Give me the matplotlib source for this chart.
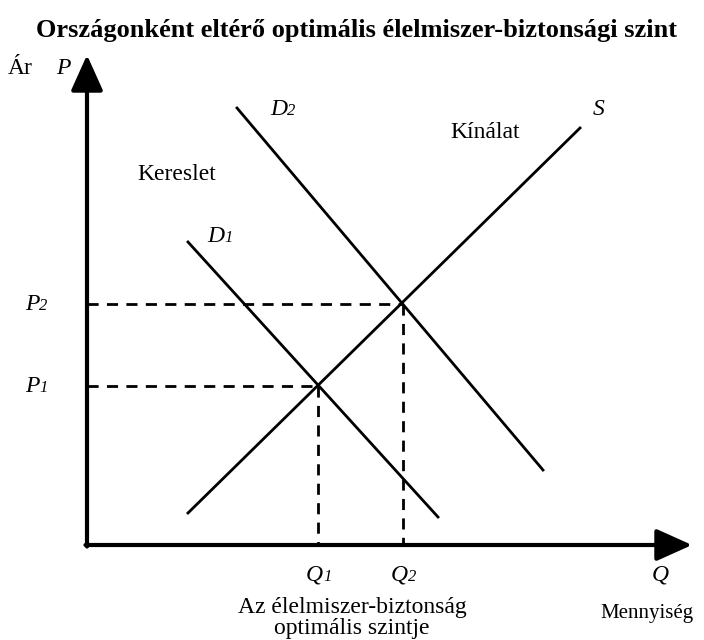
import matplotlib
matplotlib.use("Agg")
import matplotlib.pyplot as plt

# Schematic data (quantity Q, price P) in arbitrary units
supply_q = [101, 493]
supply_p = [32, 417]
d1_q = [101, 351]
d1_p = [303, 28]
d2_q = [150, 456]
d2_p = [437, 75]
eq_q = [231, 316]   # Q1, Q2
eq_p = [159, 241]   # P1, P2
q_max = 605
p_max = 490

title = "Országonként eltérő optimális élelmiszer-biztonsági szint"

plt.rcParams['font.family'] = ['Liberation Serif', 'DejaVu Serif']

fig = plt.figure(figsize=(7.04, 6.4), dpi=100)
ax = fig.add_axes([0, 0, 1, 1])
ax.set_xlim(-87, 617)
ax.set_ylim(-95, 545)
ax.axis('off')

# axes arrows
arrow = dict(arrowstyle='-|>,head_length=1.0,head_width=0.45', lw=3, color='black',
             shrinkA=0, shrinkB=0, mutation_scale=22)
ax.annotate('', xy=(0, p_max), xytext=(0, -1.5), arrowprops=arrow)
ax.annotate('', xy=(q_max, 0), xytext=(-1.5, 0), arrowprops=arrow)

# curves
ax.plot(supply_q, supply_p, color='black', lw=2)
ax.plot(d1_q, d1_p, color='black', lw=2)
ax.plot(d2_q, d2_p, color='black', lw=2)

# dashed guides
for q, p in zip(eq_q, eq_p):
    ax.plot([0, q], [p, p], color='black', lw=2, ls=(0, (4, 3)))
    ax.plot([q, q], [p, 0], color='black', lw=2, ls=(0, (4, 3)))

fs = 17
sub_fs = 12

def lab(x, y, main, sub=None, ha='left'):
    t = ax.text(x, y, main, fontsize=fs, style='italic', ha=ha, va='baseline')
    if sub is not None:
        ax.annotate(sub, xy=(1, 0), xycoords=t, fontsize=sub_fs, style='italic',
                    ha='left', va='bottom', xytext=(0, 0.5), textcoords='offset points')
    return t

lab(-31, 471, 'P')
ax.text(-79, 471, 'Ár', fontsize=fs, va='baseline')
lab(183, 430, 'D', '2')
lab(120, 303, 'D', '1')
lab(506, 430, 'S')
ax.text(363, 407, 'Kínálat', fontsize=fs, va='baseline')
ax.text(50, 365, 'Kereslet', fontsize=fs, va='baseline')
lab(-62, 235, 'P', '2')
lab(-62, 153, 'P', '1')
lab(eq_q[0] - 12, -36, 'Q', '1')
lab(eq_q[1] - 12, -36, 'Q', '2')
lab(565, -36, 'Q')

ax.text(265, -68, 'Az élelmiszer-biztonság', fontsize=fs, ha='center', va='baseline')
ax.text(265, -89, 'optimális szintje', fontsize=fs, ha='center', va='baseline')
ax.text(513, -73, 'Mennyiség', fontsize=15, va='baseline')

ax.text(269, 508, title, fontsize=19, fontweight='bold', ha='center', va='baseline')

fig.savefig('out.png', dpi=100)
